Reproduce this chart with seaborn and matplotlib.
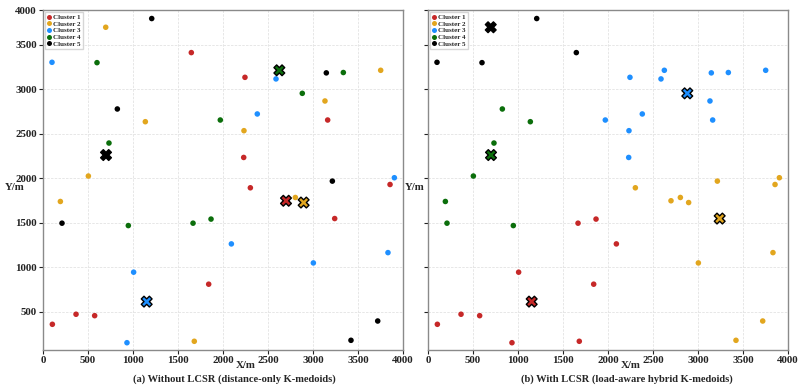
import numpy as np
import pandas as pd
import seaborn as sns
import matplotlib.pyplot as plt

# node coordinates (m)
node_x = [1208, 1648, 697, 100, 600, 826, 1137, 733, 504, 193,
          2244, 2589, 3148, 3337, 3752, 2881, 3133, 3163, 2381, 1970,
          2233, 2230, 3215, 3904, 3856, 2304, 2804, 3241, 1867, 2093,
          3004, 3833, 1841, 3719, 3422, 211, 948, 1667, 1007, 104,
          367, 574, 933, 1681, 2700, 2896, 1152, 2626, 700]
node_y = [3796, 3413, 3698, 3304, 3300, 2779, 2636, 2396, 2025, 1739,
          3135, 3117, 3185, 3189, 3214, 2955, 2869, 2655, 2723, 2655,
          2535, 2234, 1968, 2006, 1930, 1893, 1784, 1547, 1541, 1262,
          1048, 1164, 809, 395, 178, 1495, 1468, 1495, 944, 358,
          471, 455, 151, 167, 1747, 1727, 613, 3214, 2261]

# cluster assignment (1..5) without / with LCSR
cluster_a = [5, 1, 2, 3, 4, 5, 2, 4, 2, 2,
             1, 3, 5, 4, 2, 4, 2, 1, 3, 4,
             2, 1, 5, 3, 1, 1, 2, 1, 4, 3,
             3, 3, 1, 5, 5, 5, 4, 4, 3, 1,
             1, 1, 3, 2, 1, 2, 3, 4, 5]
cluster_b = [5, 5, 5, 5, 5, 4, 4, 4, 4, 4,
             3, 3, 3, 3, 3, 3, 3, 3, 3, 3,
             3, 3, 2, 2, 2, 2, 2, 2, 1, 1,
             2, 2, 1, 2, 2, 4, 4, 1, 1, 1,
             1, 1, 1, 1, 2, 2, 1, 3, 4]

# medoid node index for clusters 1..5
medoids_a = [44, 45, 46, 47, 48]
medoids_b = [46, 27, 15, 48, 2]

cluster_names = ["Cluster 1", "Cluster 2", "Cluster 3", "Cluster 4", "Cluster 5"]
cluster_colors = ["#c62828", "#e2a61e", "#1e8fff", "#0b6e0b", "#000000"]
panel_titles = ["(a) Without LCSR (distance-only K-medoids)",
                "(b) With LCSR (load-aware hybrid K-medoids)"]

sns.set_theme(style="whitegrid")
plt.rcParams["font.family"] = ["Liberation Serif", "DejaVu Serif"]
plt.rcParams["font.weight"] = "bold"

fig = plt.figure(figsize=(7.98, 3.88), dpi=100)
ax_left = fig.add_axes([43 / 798, 38 / 388, 360 / 798, 340 / 388])
ax_right = fig.add_axes([428 / 798, 38 / 388, 360 / 798, 340 / 388])

palette = dict(zip(cluster_names, cluster_colors))
y_lo, y_hi = 69, 3892

for ax, labels, medoids, title, tx in [
    (ax_left, cluster_a, medoids_a, panel_titles[0], 234 / 798),
    (ax_right, cluster_b, medoids_b, panel_titles[1], 627 / 798),
]:
    df = pd.DataFrame({"x": node_x, "y": node_y,
                       "Cluster": [cluster_names[c - 1] for c in labels]})
    sns.scatterplot(data=df, x="x", y="y", hue="Cluster", hue_order=cluster_names,
                    palette=palette, s=16, linewidth=0, ax=ax, zorder=3)
    med = pd.DataFrame({"x": [node_x[i] for i in medoids],
                        "y": [node_y[i] for i in medoids],
                        "Cluster": cluster_names})
    sns.scatterplot(data=med, x="x", y="y", hue="Cluster", hue_order=cluster_names,
                    palette=palette, marker="X", s=60, edgecolor="black",
                    linewidth=1.0, legend=False, ax=ax, zorder=4)

    ax.set_xlim(0, 4000)
    ax.set_ylim(y_lo, y_hi)
    ax.set_xticks(np.arange(0, 4001, 500))
    ax.set_yticks(list(np.arange(500, 3501, 500)) + [y_hi])
    if ax is ax_left:
        ax.set_yticklabels([str(v) for v in range(500, 4001, 500)])
    else:
        ax.set_yticklabels([])
    ax.tick_params(axis="both", labelsize=7.8, length=3, width=0.8, pad=1.5,
                   direction="out", colors="#222222", left=True, bottom=True)
    for lab in ax.get_xticklabels() + ax.get_yticklabels():
        lab.set_fontweight("bold")
    ax.grid(True, color="#e3e3e3", linestyle=(0, (3, 1.5)), linewidth=0.6)
    for sp in ax.spines.values():
        sp.set_color("#8a8a8a")
        sp.set_linewidth(1.0)

    ax.set_xlabel("X/m", fontsize=7.8, fontweight="bold")
    ax.xaxis.set_label_coords(0.563, -0.033)
    ax.set_ylabel("Y/m", fontsize=7.8, fontweight="bold", rotation=0)
    if ax is ax_left:
        ax.yaxis.set_label_coords(-0.078, 0.465)
    else:
        ax.yaxis.set_label_coords(-0.036, 0.465)

    sns.move_legend(ax, "upper left", title=None, fontsize=5, frameon=True,
                    labelspacing=0.12, handlelength=0.6, handletextpad=0.2,
                    borderpad=0.35, borderaxespad=0.25, markerscale=0.9,
                    fancybox=False, edgecolor="#cccccc")

    fig.text(tx, 0.022, title, ha="center", va="center", fontsize=7.6,
             fontweight="bold")

fig.savefig("out.png", dpi=100)
plt.close(fig)
